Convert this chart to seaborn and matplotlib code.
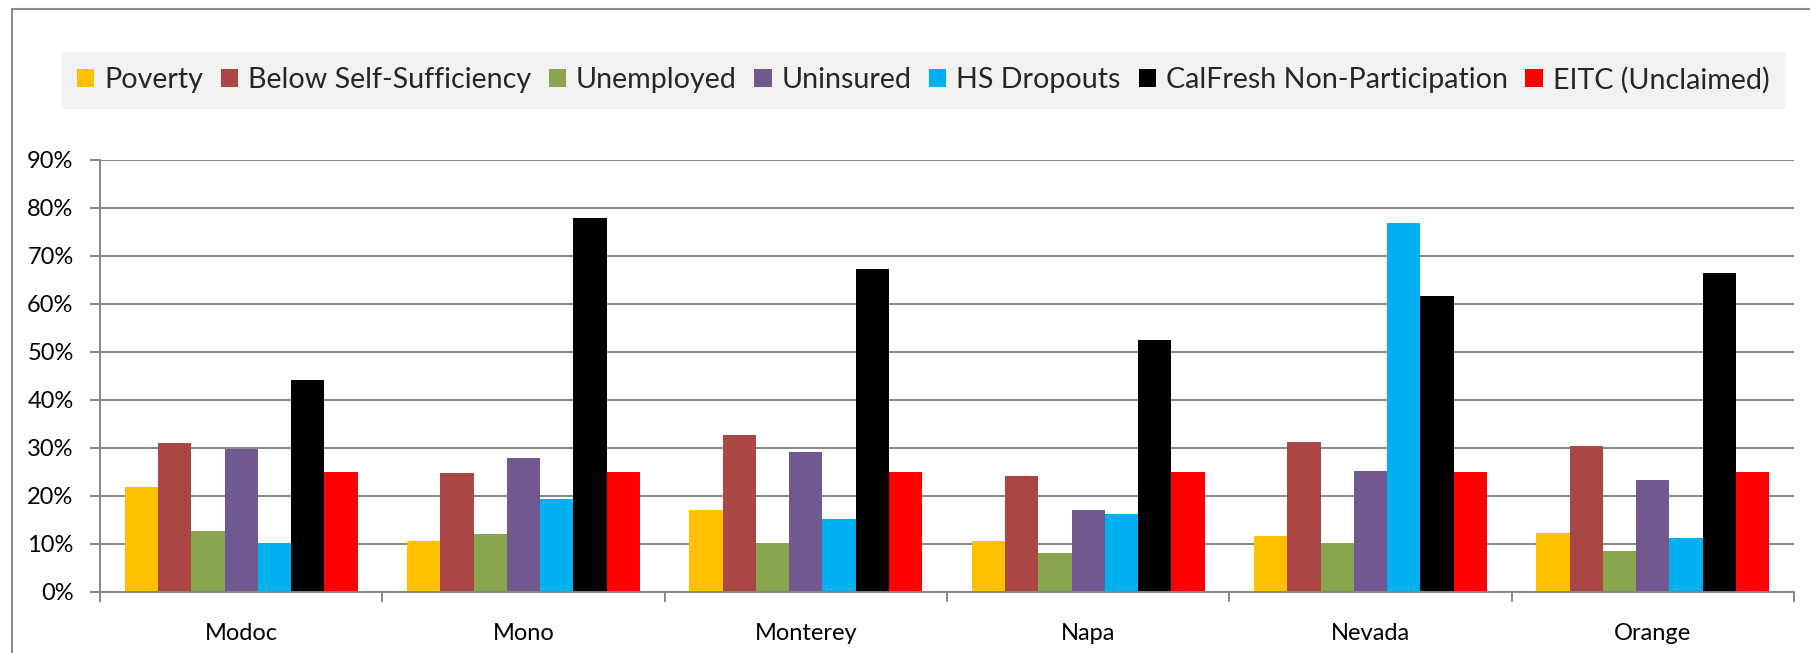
import pandas as pd
import matplotlib.pyplot as plt
import seaborn as sns
from matplotlib.ticker import PercentFormatter, FixedLocator
from matplotlib.patches import Patch, Rectangle

# 数据（从图上读出来的，单位 %）
counties = ['Modoc', 'Mono', 'Monterey', 'Napa', 'Nevada', 'Orange']
measures = ['Poverty', 'Below Self-Sufficiency', 'Unemployed', 'Uninsured',
            'HS Dropouts', 'CalFresh Non-Participation', 'EITC (Unclaimed)']

poverty = [21.9, 10.7, 17.1, 10.7, 11.6, 12.2]
below_ss = [31.1, 24.8, 32.7, 24.2, 31.2, 30.5]
unemployed = [12.8, 12.0, 10.2, 8.1, 10.2, 8.5]
uninsured = [29.7, 27.9, 29.2, 17.1, 25.2, 23.3]
hs_dropouts = [10.2, 19.4, 15.3, 16.3, 76.8, 11.2]
calfresh = [44.1, 78.0, 67.2, 52.5, 61.6, 66.5]
eitc = [25.0, 25.0, 25.0, 25.0, 25.0, 25.0]

colors = ['#FFC000', '#AA4643', '#89A54E', '#71588F', '#00B0F0', '#000000', '#FF0000']

# 整理成长表
series = [poverty, below_ss, unemployed, uninsured, hs_dropouts, calfresh, eitc]
rows = []
for m, vals in zip(measures, series):
    for c, v in zip(counties, vals):
        rows.append({'county': c, 'measure': m, 'value': v / 100})
df = pd.DataFrame(rows)

sns.set_style('white')
plt.rcParams['font.family'] = ['Lato', 'DejaVu Sans']

fig = plt.figure(figsize=(18.1, 6.53), dpi=100)
ax = fig.add_axes([100 / 1810, 1 - 592 / 653, 1694 / 1810, 432 / 653])

sns.barplot(data=df, x='county', y='value', hue='measure', order=counties,
            hue_order=measures, palette=colors, saturation=1, width=0.826,
            gap=0, ax=ax, legend=False, linewidth=0)

ax.set_ylim(0, 0.9)
ax.set_xlim(-0.5, 5.5)
ax.yaxis.set_major_locator(FixedLocator([i / 10 for i in range(10)]))
ax.yaxis.set_major_formatter(PercentFormatter(1.0, decimals=0))
ax.set_xlabel('')
ax.set_ylabel('')

# 网格线和坐标轴
grid_c = '#868686'
ax.grid(axis='y', color=grid_c, linewidth=1.4)
ax.set_axisbelow(True)
for s in ['top', 'right']:
    ax.spines[s].set_visible(False)
for s in ['left', 'bottom']:
    ax.spines[s].set_color(grid_c)
    ax.spines[s].set_linewidth(1.4)

ax.tick_params(axis='y', which='major', left=True, length=7, width=1.4,
               color=grid_c, labelsize=17, pad=12, labelcolor='black')
ax.tick_params(axis='x', which='major', length=0, labelsize=17, pad=22,
               labelcolor='black')
ax.set_xticks([i - 0.5 for i in range(7)], minor=True)
ax.tick_params(axis='x', which='minor', bottom=True, length=7, width=1.4,
               color=grid_c)

# 图例
handles = [Patch(facecolor=c, edgecolor='none') for c in colors]
leg = fig.legend(handles, measures, loc='center', ncol=7,
                 bbox_to_anchor=(923 / 1810, 1 - 80 / 653), fontsize=20.6,
                 frameon=True, fancybox=False, facecolor='#F2F2F2',
                 edgecolor='#F2F2F2', framealpha=1, handlelength=0.6,
                 handleheight=0.6, handletextpad=0.35, columnspacing=0.62,
                 borderpad=0.5)

# 外框
fig.patches.append(Rectangle((12 / 1810, -0.1), 1.1, 1.1 - 9 / 653,
                             transform=fig.transFigure, fill=False,
                             edgecolor='#8C8C8C', linewidth=1.5))

plt.savefig('out.png', dpi=100)
